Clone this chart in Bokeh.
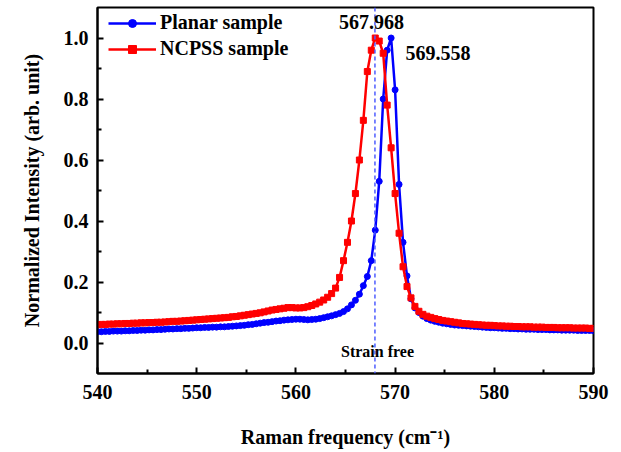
from bokeh.plotting import figure
from bokeh.models import Span, Label, FixedTicker, PrintfTickFormatter, Legend, LegendItem
from bokeh.embed import file_html
from bokeh.resources import INLINE

# Raman spectra, sampled every 0.4 cm^-1 from 540 to 590
planar = [
    0.037, 0.037, 0.038, 0.038, 0.039, 0.039, 0.039, 0.040, 0.040, 0.041,
    0.041, 0.042, 0.042, 0.043, 0.043, 0.044, 0.044, 0.045, 0.046, 0.046,
    0.047, 0.047, 0.048, 0.048, 0.049, 0.050, 0.050, 0.051, 0.051, 0.052,
    0.052, 0.053, 0.053, 0.054, 0.055, 0.056, 0.057, 0.058, 0.060, 0.061,
    0.063, 0.065, 0.067, 0.068, 0.070, 0.072, 0.073, 0.075, 0.076, 0.077,
    0.078, 0.078, 0.077, 0.076, 0.077, 0.078, 0.080, 0.083, 0.086,
    0.089, 0.093, 0.097, 0.103, 0.112, 0.125, 0.140, 0.160, 0.188, 0.218,
    0.270, 0.370, 0.530, 0.800, 0.960, 1.000, 0.830, 0.520, 0.330, 0.220,
    0.145, 0.115, 0.100, 0.088, 0.080, 0.075, 0.071, 0.068, 0.065, 0.063,
    0.061, 0.059, 0.058, 0.057, 0.056, 0.055, 0.054, 0.053, 0.052, 0.051,
    0.050, 0.050, 0.049, 0.048, 0.048, 0.047, 0.047, 0.046, 0.046, 0.045,
    0.045, 0.045, 0.044, 0.044, 0.044, 0.043, 0.043, 0.043, 0.042, 0.042,
    0.042, 0.042, 0.041, 0.041, 0.041, 0.041, 0.040,
]
ncpss = [
    0.060, 0.061, 0.061, 0.062, 0.062, 0.063, 0.063, 0.064, 0.064, 0.065,
    0.065, 0.066, 0.066, 0.067, 0.067, 0.068, 0.068, 0.069, 0.070, 0.071,
    0.071, 0.072, 0.073, 0.074, 0.075, 0.076, 0.077, 0.078, 0.079, 0.080,
    0.081, 0.082, 0.083, 0.084, 0.086, 0.087, 0.089, 0.091, 0.093, 0.095,
    0.097, 0.099, 0.102, 0.105, 0.108, 0.110, 0.112, 0.114, 0.116, 0.116,
    0.115, 0.115, 0.116, 0.119, 0.123, 0.128, 0.134, 0.141, 0.150,
    0.162, 0.180, 0.215, 0.270, 0.330, 0.400, 0.490, 0.600, 0.730, 0.890,
    0.960, 1.000, 0.990, 0.950, 0.780, 0.640, 0.490, 0.360, 0.250, 0.185,
    0.148, 0.120, 0.104, 0.094, 0.088, 0.084, 0.080, 0.077, 0.074, 0.072,
    0.070, 0.068, 0.066, 0.064, 0.063, 0.062, 0.061, 0.060, 0.059, 0.058,
    0.058, 0.057, 0.056, 0.056, 0.055, 0.055, 0.054, 0.054, 0.053, 0.053,
    0.053, 0.052, 0.052, 0.052, 0.051, 0.051, 0.051, 0.050, 0.050, 0.050,
    0.050, 0.049, 0.049, 0.049, 0.049, 0.048, 0.048,
]
freq = [round(540 + 0.4 * i, 1) for i in range(len(planar))]

strain_free = 567.968
peak_labels = ["567.968", "569.558"]
x_ticks = [540, 550, 560, 570, 580, 590]
x_minor = [545, 555, 565, 575, 585]
y_ticks = [0.0, 0.2, 0.4, 0.6, 0.8, 1.0]
y_minor = [0.1, 0.3, 0.5, 0.7, 0.9]

FONT = "Liberation Serif"

p = figure(width=613, height=452, x_range=(540, 590), y_range=(-0.1, 1.1),
           output_backend="svg", toolbar_location=None,
           min_border_left=97, min_border_right=20, min_border_top=7, min_border_bottom=79)
p.grid.visible = False
p.outline_line_color = "black"
p.outline_line_width = 2
p.background_fill_color = "white"
p.border_fill_color = "white"

for ax in (p.xaxis[0], p.yaxis[0]):
    ax.axis_line_width = 2
    ax.axis_line_color = "black"
    ax.major_tick_in = 6
    ax.major_tick_out = 0
    ax.minor_tick_in = 4
    ax.minor_tick_out = 0
    ax.major_tick_line_width = 2
    ax.minor_tick_line_width = 2
    ax.major_label_text_font = FONT
    ax.major_label_text_font_style = "bold"
    ax.major_label_text_font_size = "20px"
    ax.major_label_text_color = "black"
    ax.axis_label_text_font = FONT
    ax.axis_label_text_font_style = "bold"
    ax.axis_label_text_font_size = "20px"
    ax.axis_label_text_color = "black"

p.xaxis.ticker = FixedTicker(ticks=x_ticks, minor_ticks=x_minor)
p.yaxis.ticker = FixedTicker(ticks=y_ticks, minor_ticks=y_minor)
p.yaxis.formatter = PrintfTickFormatter(format="%.1f")
p.xaxis.axis_label = "Raman frequency (cm\u207b\u00b9)"
p.yaxis.axis_label = "Normalized Intensity (arb. unit)"
p.xaxis.major_label_standoff = 11
p.xaxis.axis_label_standoff = 24
p.yaxis.major_label_standoff = 9
p.yaxis.axis_label_standoff = 18

p.add_layout(Span(location=strain_free, dimension="height", line_color="#4d5cff",
                  line_dash="4 3", line_width=1.5))

bl = p.line(freq, planar, line_color="#0000ff", line_width=2.5)
bs = p.scatter(freq, planar, marker="circle", size=6, fill_color="#0000ff",
               line_color="#0000ff")
rl = p.line(freq, ncpss, line_color="#ff0000", line_width=2.5)
rs = p.scatter(freq, ncpss, marker="square", size=6, fill_color="#ff0000",
               line_color="#ff0000")

legend = Legend(items=[LegendItem(label="Planar sample", renderers=[bl, bs]),
                       LegendItem(label="NCPSS sample", renderers=[rl, rs])],
                location=(11, 313), padding=4, spacing=3, margin=0,
                glyph_width=48, glyph_height=20, label_height=20, label_standoff=4,
                border_line_color=None, background_fill_alpha=0,
                label_text_font=FONT, label_text_font_style="bold",
                label_text_font_size="20px", label_text_color="black")
p.add_layout(legend)

p.add_layout(Label(x=567.62, y=1.051, text=peak_labels[0], text_align="center",
                   text_baseline="middle", text_font=FONT, text_font_style="bold",
                   text_font_size="20px", text_color="black"))
p.add_layout(Label(x=571.05, y=0.95, text=peak_labels[1], text_align="left",
                   text_baseline="middle", text_font=FONT, text_font_style="bold",
                   text_font_size="20px", text_color="black"))
p.add_layout(Label(x=568.23, y=-0.027, text="Strain free", text_align="center",
                   text_baseline="middle", text_font=FONT, text_font_style="bold",
                   text_font_size="16px", text_color="black"))

open("out.html", "w").write(file_html(p, INLINE))
